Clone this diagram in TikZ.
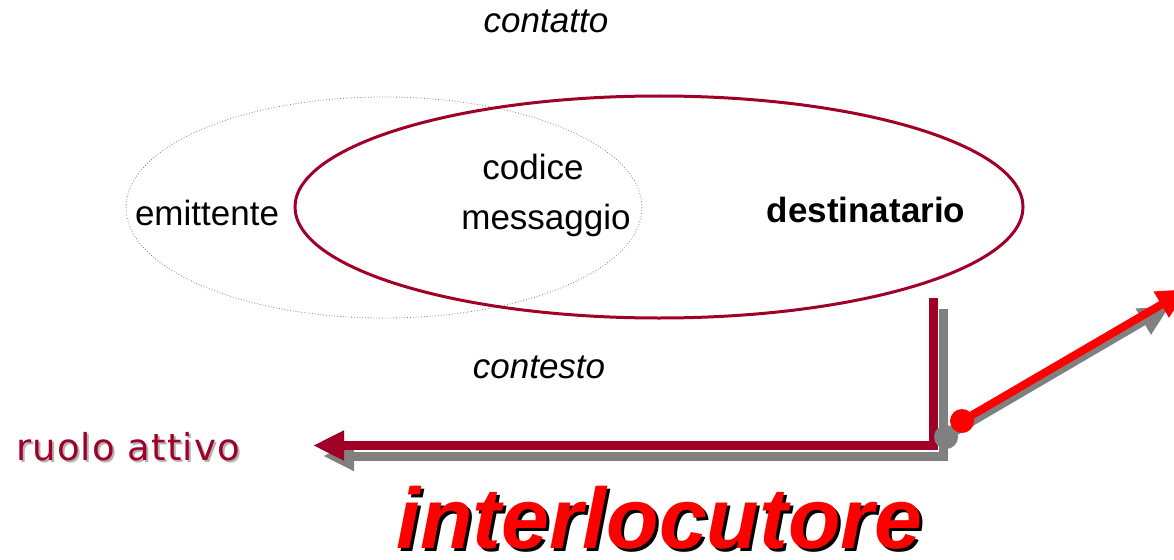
\documentclass[tikz,border=0pt]{standalone}
\usepackage{fontspec}
\setmainfont{Liberation Sans}
\newfontfamily\ruolofont[LetterSpace=3]{DejaVu Sans}
\usetikzlibrary{arrows.meta}
\definecolor{bordeaux}{HTML}{A00028}
\definecolor{ombra}{HTML}{808080}
\definecolor{rosso}{HTML}{FF0000}
\begin{document}
\begin{tikzpicture}[x=1pt,y=-1pt,
  testo/.style={inner sep=0pt,anchor=base,font=\fontsize{35}{42}\selectfont},
  freccia/.style={line width=9pt,line join=miter,-{Triangle[length=31pt,width=28pt]}}]
  \useasboundingbox (0,0) rectangle (1174,559);
  \clip (0,0) rectangle (1174,559);
  % i due campi
  \draw [ombra,line width=0.8pt,dotted] (384,207.5) ellipse (258 and 110.5);
  \draw [bordeaux,line width=3pt] (659,207) ellipse (364 and 111);
  % le voci
  \node [testo,font=\fontsize{35}{42}\selectfont\itshape] (contatto) at (546,33) {contatto};
  \node [testo] (codice) at (533,179) {codice};
  \node [testo] (emittente) at (207,225) {emittente};
  \node [testo] (messaggio) at (546,229) {messaggio};
  \node [testo,font=\fontsize{35}{42}\selectfont\bfseries] (destinatario) at (866,222) {destinatario};
  \node [testo,font=\fontsize{35}{42}\selectfont\itshape] (contesto) at (539,378) {contesto};
  \node [testo,font=\fontsize{37}{44}\ruolofont,text=ombra!60] at (130,462) {ruolo attivo};
  \node [testo,font=\fontsize{37}{44}\ruolofont,text=bordeaux] (ruolo) at (128,460) {ruolo attivo};
  \node [testo,font=\fontsize{86}{100}\selectfont\bfseries\itshape] at (662,551) {interlocutore};
  \node [testo,font=\fontsize{86}{100}\selectfont\bfseries\itshape,text=rosso] (interlocutore) at (659,548) {interlocutore};
  % freccia ad L con ombra
  \coordinate (inizio) at (933.5,298);
  \coordinate (angolo) at (933.5,445.5);
  \coordinate (punta) at (313,445.5);
  \coordinate (inizioombra) at (943.5,309);
  \coordinate (angoloombra) at (943.5,456);
  \coordinate (puntaombra) at (323,456);
  \draw [freccia,ombra] (inizioombra) -- (angoloombra) -- (puntaombra);
  \draw [freccia,bordeaux] (inizio) -- (angolo) -- (punta);
  % freccia obliqua con ombra
  \coordinate (perno) at (962,421);
  \coordinate (pernoombra) at (946,437);
  \coordinate (uscita) at (1188,289);
  \coordinate (uscitaombra) at (1170,306);
  \draw [freccia,ombra,line width=8pt] (pernoombra) -- (uscitaombra);
  \fill [ombra] (pernoombra) circle (12);
  \draw [freccia,rosso,line width=8pt] (perno) -- (uscita);
  \fill [rosso] (perno) circle (12);
\end{tikzpicture}
\end{document}
